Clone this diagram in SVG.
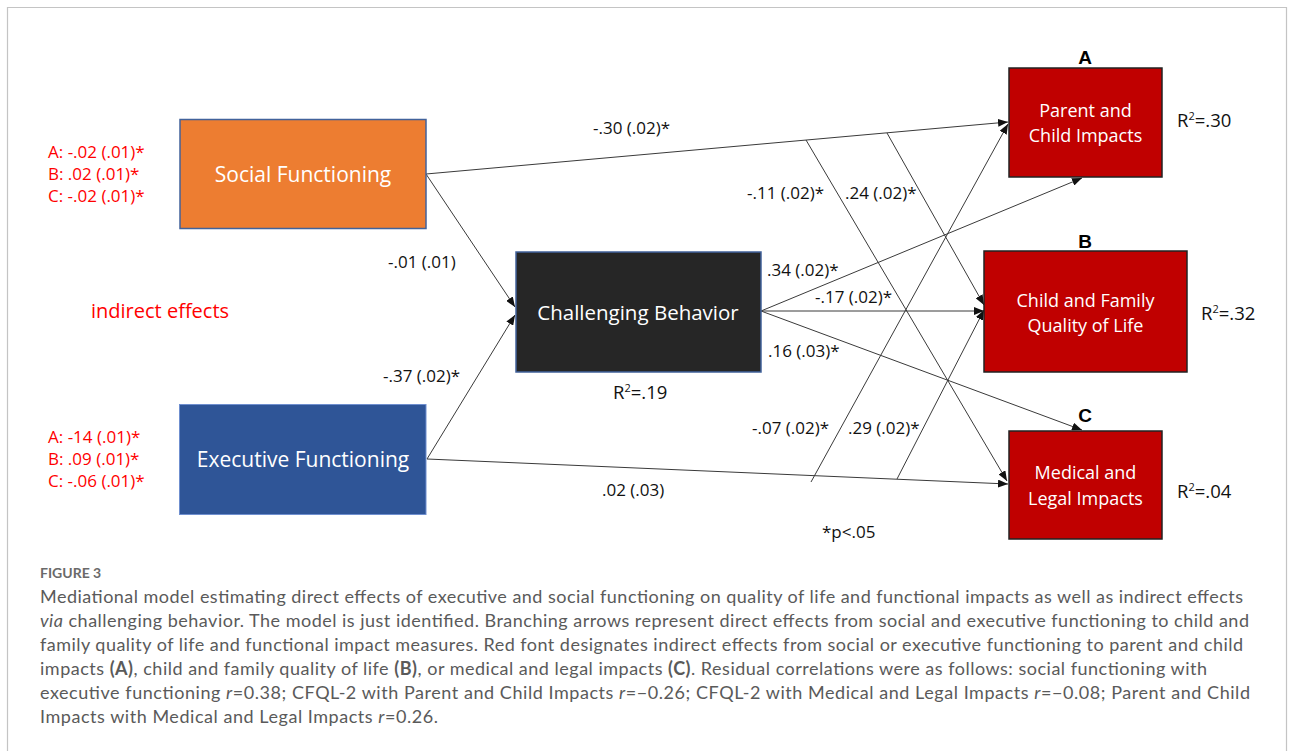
<svg xmlns="http://www.w3.org/2000/svg" width="1293" height="751" viewBox="0 0 1293 751">
<style>
.bg{fill:#ffffff}
.frame{fill:none;stroke:#c4c4c4;stroke-width:1.2}
.lbl{font-family:"Open Sans","Noto Sans","Liberation Sans",sans-serif;font-size:17px;fill:#111111}
.red{font-family:"Open Sans","Noto Sans","Liberation Sans",sans-serif;font-size:17px;fill:#ff0000}
.node{font-family:"Open Sans","Noto Sans","Liberation Sans",sans-serif;fill:#ffffff;text-anchor:middle}
.big{font-size:21px}
.mid{font-size:18px}
.r2{font-family:"Open Sans","Noto Sans","Liberation Sans",sans-serif;font-size:18.5px;fill:#111111}
.sup{font-size:11px}
.letter{font-family:"Liberation Sans",Arial,sans-serif;font-weight:bold;font-size:19px;fill:#000000;text-anchor:middle}
.conn line{stroke:#3a3a3a;stroke-width:1;marker-end:url(#arr)}
.redbox{fill:#c00000;stroke:#222222;stroke-width:1.5}
.cap{font-family:Lato,"Open Sans",sans-serif;font-size:18px;fill:#5a5a5a}
.fig{font-family:Lato,"Open Sans",sans-serif;font-size:14px;font-weight:bold;fill:#6a6a6a}
</style>
<defs>
<marker id="arr" markerUnits="userSpaceOnUse" markerWidth="10" markerHeight="8" refX="10" refY="4" orient="auto">
<path d="M0,0 L10,4 L0,8 z" fill="#111111"/>
</marker>
</defs>
<rect class="bg" x="0" y="0" width="1293" height="751"/>
<path class="frame" d="M7.5,751 V7.5 H1286.5 V751"/>

<g id="connectors" class="conn">
<line x1="426" y1="174" x2="515" y2="307"/>
<line x1="427" y1="459" x2="515" y2="315"/>
<line x1="426" y1="174" x2="1008" y2="122"/>
<line x1="427" y1="459" x2="1008" y2="484"/>
<line x1="806" y1="140" x2="1007" y2="481"/>
<line x1="887" y1="133" x2="984" y2="305"/>
<line x1="811" y1="482" x2="1008" y2="124"/>
<line x1="897" y1="479" x2="984" y2="310"/>
<line x1="761" y1="311" x2="1082" y2="178"/>
<line x1="761" y1="311" x2="984" y2="311"/>
<line x1="761" y1="311" x2="1082" y2="430"/>
</g>

<g id="social">
<rect x="180" y="119.5" width="246" height="109" fill="#ed7d31" stroke="#41629b" stroke-width="1.5"/>
<text class="node big" x="303" y="182">Social Functioning</text>
</g>
<g id="executive">
<rect x="179.5" y="404.5" width="246.5" height="110" fill="#2f5597" stroke="#6f8fcf" stroke-width="1"/>
<text class="node big" x="303" y="467">Executive Functioning</text>
</g>
<g id="challenging">
<rect x="516" y="252" width="245" height="120" fill="#262626" stroke="#41629b" stroke-width="1.5"/>
<text class="node" x="638" y="320" style="font-size:20.5px">Challenging Behavior</text>
</g>
<g id="parent-child">
<rect class="redbox" x="1009" y="68" width="153" height="109"/>
<text class="node mid" x="1085.5" y="117">Parent and</text>
<text class="node mid" x="1085.5" y="142">Child Impacts</text>
<text class="letter" x="1085" y="64">A</text>
<text class="r2" x="1177" y="127">R<tspan class="sup" dy="-7">2</tspan><tspan dy="7">=.30</tspan></text>
</g>
<g id="child-family">
<rect class="redbox" x="984" y="251" width="203" height="121"/>
<text class="node mid" x="1085.5" y="307">Child and Family</text>
<text class="node mid" x="1085.5" y="332">Quality of Life</text>
<text class="letter" x="1085" y="248">B</text>
<text class="r2" x="1201" y="320">R<tspan class="sup" dy="-7">2</tspan><tspan dy="7">=.32</tspan></text>
</g>
<g id="medical-legal">
<rect class="redbox" x="1009" y="431" width="153" height="108"/>
<text class="node mid" x="1085.5" y="479">Medical and</text>
<text class="node mid" x="1085.5" y="505">Legal Impacts</text>
<text class="letter" x="1085" y="422">C</text>
<text class="r2" x="1177" y="498">R<tspan class="sup" dy="-7">2</tspan><tspan dy="7">=.04</tspan></text>
</g>

<g id="labels">
<text class="lbl" x="593" y="134">-.30 (.02)*</text>
<text class="lbl" x="747" y="199">-.11 (.02)*</text>
<text class="lbl" x="845" y="199">.24 (.02)*</text>
<text class="lbl" x="767" y="276">.34 (.02)*</text>
<text class="lbl" x="815" y="303">-.17 (.02)*</text>
<text class="lbl" x="768" y="357">.16 (.03)*</text>
<text class="lbl" x="752" y="434">-.07 (.02)*</text>
<text class="lbl" x="848" y="434">.29 (.02)*</text>
<text class="lbl" x="822" y="538">*p&lt;.05</text>
<text class="lbl" x="388" y="268">-.01 (.01)</text>
<text class="lbl" x="383" y="382">-.37 (.02)*</text>
<text class="lbl" x="602" y="496">.02 (.03)</text>
<text class="r2" x="613" y="399">R<tspan class="sup" dy="-7">2</tspan><tspan dy="7">=.19</tspan></text>
</g>

<g id="indirect">
<text class="red" x="48" y="158">A: -.02 (.01)*</text>
<text class="red" x="48" y="180">B: .02 (.01)*</text>
<text class="red" x="48" y="202">C: -.02 (.01)*</text>
<text class="red" x="91" y="318" style="font-size:20px">indirect effects</text>
<text class="red" x="48" y="443">A: -14 (.01)*</text>
<text class="red" x="48" y="465">B: .09 (.01)*</text>
<text class="red" x="48" y="487">C: -.06 (.01)*</text>
</g>

<g id="caption">
<text class="fig" x="40" y="578">FIGURE 3</text>
<text class="cap" x="40" y="603" textLength="1203" lengthAdjust="spacing">Mediational model estimating direct effects of executive and social functioning on quality of life and functional impacts as well as indirect effects</text>
<text class="cap" x="40" y="627" textLength="1209" lengthAdjust="spacing"><tspan font-style="italic">via</tspan> challenging behavior. The model is just identified. Branching arrows represent direct effects from social and executive functioning to child and</text>
<text class="cap" x="40" y="651" textLength="1203" lengthAdjust="spacing">family quality of life and functional impact measures. Red font designates indirect effects from social or executive functioning to parent and child</text>
<text class="cap" x="40" y="675" textLength="1167" lengthAdjust="spacing">impacts <tspan font-weight="bold">(A)</tspan>, child and family quality of life <tspan font-weight="bold">(B)</tspan>, or medical and legal impacts <tspan font-weight="bold">(C)</tspan>. Residual correlations were as follows: social functioning with</text>
<text class="cap" x="40" y="699" textLength="1210" lengthAdjust="spacing">executive functioning <tspan font-style="italic">r</tspan>=0.38; CFQL-2 with Parent and Child Impacts <tspan font-style="italic">r</tspan>=−0.26; CFQL-2 with Medical and Legal Impacts <tspan font-style="italic">r</tspan>=−0.08; Parent and Child</text>
<text class="cap" x="40" y="723" textLength="398" lengthAdjust="spacing">Impacts with Medical and Legal Impacts <tspan font-style="italic">r</tspan>=0.26.</text>
</g>
</svg>
